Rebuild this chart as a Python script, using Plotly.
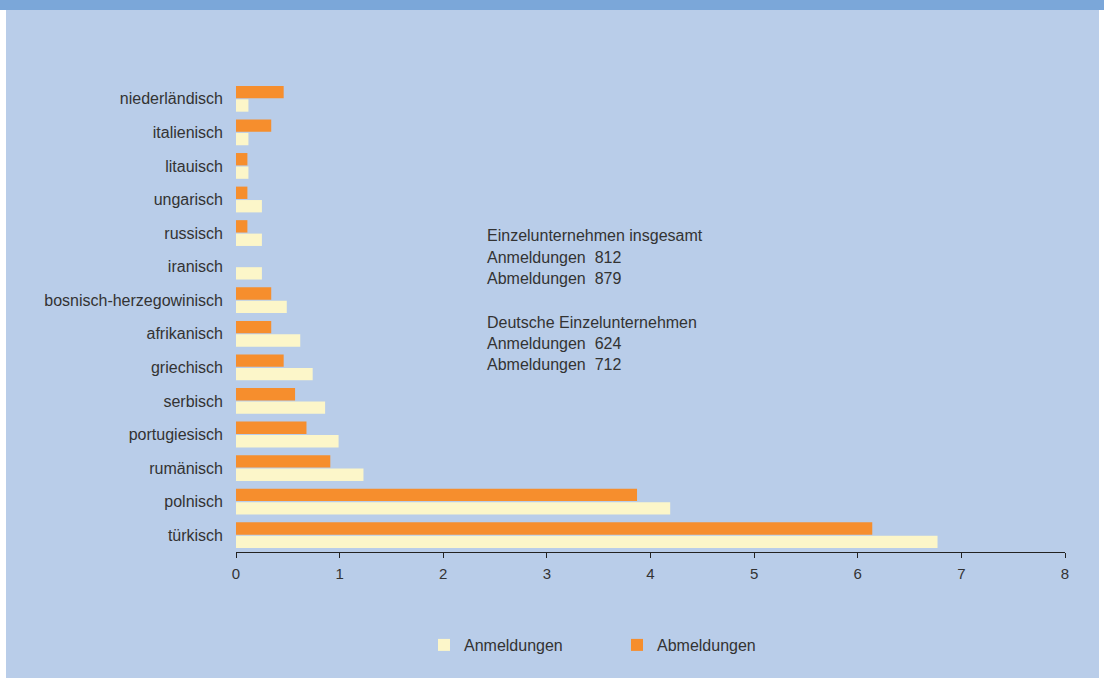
import plotly.graph_objects as go

# Nationalities, listed from bottom (largest) to top
laender = [
    "türkisch", "polnisch", "rumänisch", "portugiesisch", "serbisch",
    "griechisch", "afrikanisch", "bosnisch-herzegowinisch", "iranisch",
    "russisch", "ungarisch", "litauisch", "italienisch", "niederländisch",
]

# Share in percent of all sole proprietorships
anmeldungen = [6.77, 4.19, 1.23, 0.99, 0.86, 0.74, 0.62, 0.49, 0.25,
               0.25, 0.25, 0.12, 0.12, 0.12]
abmeldungen = [6.14, 3.87, 0.91, 0.68, 0.57, 0.46, 0.34, 0.34, 0.0,
               0.11, 0.11, 0.11, 0.34, 0.46]

x_ticks = [0, 1, 2, 3, 4, 5, 6, 7, 8]

info_lines = [
    "Einzelunternehmen insgesamt",
    "Anmeldungen  812",
    "Abmeldungen  879",
    "",
    "Deutsche Einzelunternehmen",
    "Anmeldungen  624",
    "Abmeldungen  712",
]

W, H = 1104, 682
L, R, T, B = 236, 39, 82, 130
PW, PH = W - L - R, H - T - B


def px_x(px):
    return (px - L) / PW


def px_y(py):
    return (H - B - py) / PH


TEXT = "#333333"
FONT = "Liberation Sans, Arial, sans-serif"

fig = go.Figure()
fig.add_trace(go.Bar(
    y=laender, x=anmeldungen, orientation="h", name="Anmeldungen",
    marker=dict(color="#fcf6c9", line=dict(width=0)),
))
fig.add_trace(go.Bar(
    y=laender, x=abmeldungen, orientation="h", name="Abmeldungen",
    marker=dict(color="#f68e2d", line=dict(width=0)),
))

shapes = [
    # light blue panel
    dict(type="rect", xref="paper", yref="paper",
         x0=px_x(6), x1=px_x(1099), y0=px_y(678), y1=px_y(10),
         fillcolor="#b9cde9", line=dict(width=0), layer="below"),
    # darker band along the top edge
    dict(type="rect", xref="paper", yref="paper",
         x0=px_x(0), x1=px_x(W), y0=px_y(10), y1=px_y(0),
         fillcolor="#7ba7d9", line=dict(width=0), layer="below"),
]

annotations = []
line_y = [235, 257, 278, None, 322, 343, 364]
for txt, yy in zip(info_lines, line_y):
    if not txt:
        continue
    annotations.append(dict(
        x=px_x(485), y=px_y(yy), xref="paper", yref="paper",
        text=txt, showarrow=False, xanchor="left", yanchor="middle",
        font=dict(size=16, color=TEXT, family=FONT),
    ))

fig.update_layout(
    width=W, height=H,
    margin=dict(l=L, r=R, t=T, b=B),
    paper_bgcolor="white",
    plot_bgcolor="rgba(0,0,0,0)",
    barmode="group",
    bargap=0.2,
    bargroupgap=0.08,
    font=dict(family=FONT, size=16, color=TEXT),
    shapes=shapes,
    annotations=annotations,
    showlegend=True,
    legend=dict(
        orientation="h", x=px_x(424), xanchor="left",
        y=px_y(645), yanchor="middle",
        bgcolor="rgba(0,0,0,0)",
        font=dict(size=16, color=TEXT, family=FONT),
        itemwidth=30, entrywidth=148, entrywidthmode="pixels",
        traceorder="normal",
    ),
    xaxis=dict(
        range=[0, 8], tickvals=x_ticks, showgrid=False, zeroline=False,
        showline=True, linecolor="#222222", linewidth=1,
        ticks="outside", ticklen=5, tickcolor="#222222",
        ticklabelstandoff=3,
        tickfont=dict(size=15, color=TEXT, family=FONT),
        fixedrange=True,
    ),
    yaxis=dict(
        categoryorder="array", categoryarray=laender,
        showgrid=False, zeroline=False, showline=False, ticks="",
        ticklabelstandoff=12,
        tickfont=dict(size=16, color=TEXT, family=FONT),
        fixedrange=True,
    ),
)

fig.write_html("out.html")
